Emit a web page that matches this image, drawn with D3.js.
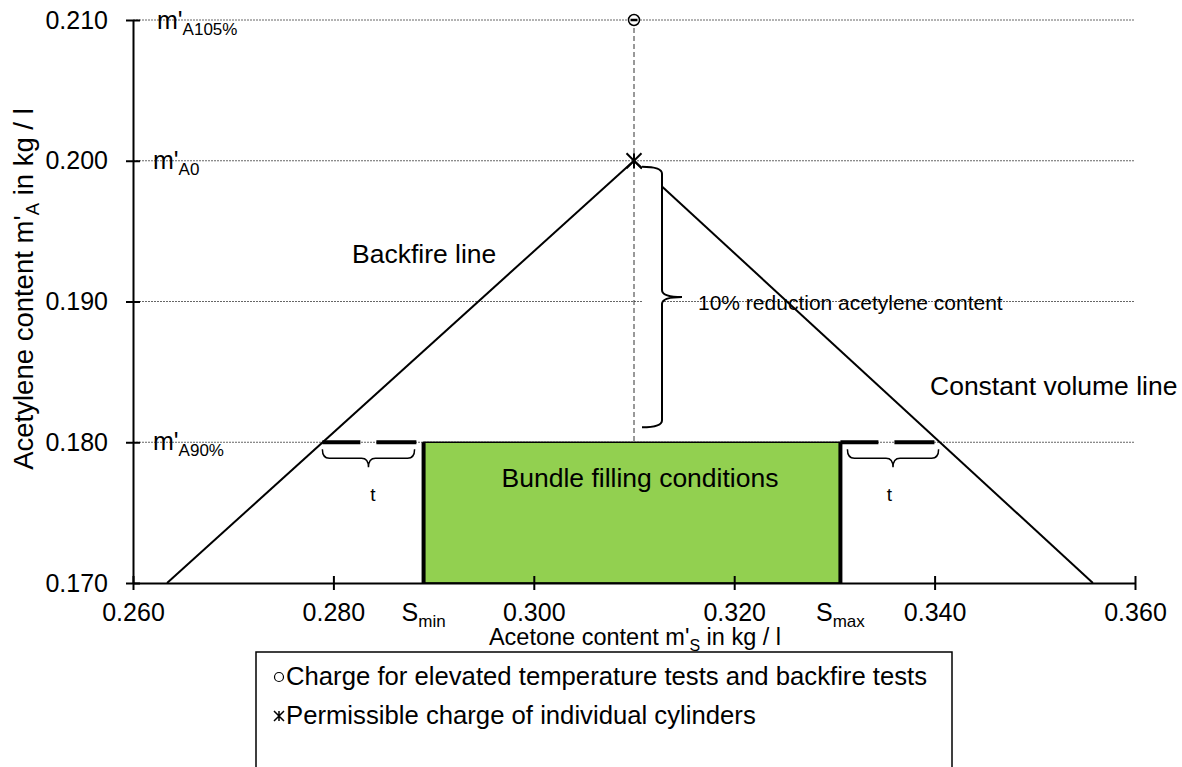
<!DOCTYPE html>
<html>
<head>
<meta charset="utf-8">
<script src="https://cdn.jsdelivr.net/npm/d3@7"></script>
<style>
  body { margin: 0; background: #fff; }
  text { font-family: Arial, "Liberation Sans", sans-serif; fill: #000; }
</style>
</head>
<body>
<div id="container"></div>
<script>
// axis ticks
const xTicks = [0.260, 0.280, 0.300, 0.320, 0.340, 0.360];
const yTicks = [0.170, 0.180, 0.190, 0.200, 0.210];

// reference levels of acetylene content
const refLevels = [0.210, 0.200, 0.180];
const refSubs = ["A105%", "A0", "A90%"];

// backfire line and constant volume line (acetone, acetylene)
const backfireX = [0.2634, 0.3100];
const backfireY = [0.170, 0.200];
const constVolX = [0.3100, 0.3558];
const constVolY = [0.200, 0.170];

// bundle filling conditions
const fillX = [0.2890, 0.3306];   // S_min, S_max
const fillY = [0.170, 0.180];

// tolerance t on both sides, at m'A90%
const tolLeftX = [0.2789, 0.2890];
const tolRightX = [0.3306, 0.3404];
const tolY = 0.180;

// charges
const chargeX = 0.310;
const elevatedY = 0.210;
const permissibleY = 0.200;

const width = 1182, height = 767;

const svg = d3.select("#container")
  .append("svg")
    .attr("width", width)
    .attr("height", height);

const x = d3.scaleLinear().domain([0.260, 0.360]).range([133, 1135]);
const y = d3.scaleLinear().domain([0.170, 0.210]).range([583, 20]);

// gridlines
svg.selectAll(".grid")
  .data(yTicks.filter(d => d > 0.170))
  .enter()
  .append("line")
    .attr("x1", x(0.260))
    .attr("x2", x(0.360))
    .attr("y1", d => y(d))
    .attr("y2", d => y(d))
    .attr("stroke", "#666")
    .attr("stroke-width", 1)
    .attr("stroke-dasharray", "2,1");

// green area
svg.append("rect")
  .attr("x", x(fillX[0]))
  .attr("y", y(fillY[1]))
  .attr("width", x(fillX[1]) - x(fillX[0]))
  .attr("height", y(fillY[0]) - y(fillY[1]))
  .attr("fill", "#92D050")
  .attr("stroke", "#000")
  .attr("stroke-width", 1.5);

svg.selectAll(".side")
  .data(fillX)
  .enter()
  .append("line")
    .attr("x1", d => x(d))
    .attr("x2", d => x(d))
    .attr("y1", y(fillY[0]))
    .attr("y2", y(fillY[1]))
    .attr("stroke", "#000")
    .attr("stroke-width", 4);

// vertical dashed line through the charges
svg.append("line")
  .attr("x1", x(chargeX))
  .attr("x2", x(chargeX))
  .attr("y1", y(elevatedY))
  .attr("y2", y(tolY))
  .attr("stroke", "#333")
  .attr("stroke-width", 1)
  .attr("stroke-dasharray", "5,3");

const line = d3.line().x(d => x(d[0])).y(d => y(d[1]));

svg.append("path")
  .attr("d", line(d3.zip(backfireX, backfireY)))
  .attr("fill", "none")
  .attr("stroke", "#000")
  .attr("stroke-width", 2);

svg.append("path")
  .attr("d", line(d3.zip(constVolX, constVolY)))
  .attr("fill", "none")
  .attr("stroke", "#000")
  .attr("stroke-width", 2);

// thick dashes for t
svg.selectAll(".tol")
  .data([tolLeftX, tolRightX])
  .enter()
  .append("line")
    .attr("x1", d => x(d[0]))
    .attr("x2", d => x(d[1]))
    .attr("y1", y(tolY))
    .attr("y2", y(tolY))
    .attr("stroke", "#000")
    .attr("stroke-width", 4)
    .attr("stroke-dasharray", "38,16,40,200");

// braces
function vBrace(x0, y0, y1, w) {
  const xm = x0 + w, xt = x0 + 2 * w, ym = (y0 + y1) / 2, r = 7;
  return `M${x0},${y0} Q${xm},${y0} ${xm},${y0 + r} L${xm},${ym - r} Q${xm},${ym} ${xt},${ym}` +
         ` Q${xm},${ym} ${xm},${ym + r} L${xm},${y1 - r} Q${xm},${y1} ${x0},${y1}`;
}
function hBrace(x0, x1, y0, h) {
  const ym = y0 + h, yt = y0 + 2 * h, xm = (x0 + x1) / 2, r = 7;
  return `M${x0},${y0} Q${x0},${ym} ${x0 + r},${ym} L${xm - r},${ym} Q${xm},${ym} ${xm},${yt}` +
         ` Q${xm},${ym} ${xm + r},${ym} L${x1 - r},${ym} Q${x1},${ym} ${x1},${y0}`;
}

const bigBrace = vBrace(x(chargeX) + 8, y(permissibleY) + 6, y(tolY) - 15, 20);
svg.append("path")
  .attr("d", bigBrace + "Z")
  .attr("fill", "#fff");
svg.append("path")
  .attr("d", bigBrace)
  .attr("fill", "none")
  .attr("stroke", "#000")
  .attr("stroke-width", 2);

svg.selectAll(".tbrace")
  .data([tolLeftX, tolRightX])
  .enter()
  .append("path")
    .attr("d", (d, i) => hBrace(x(d[0]) + (i ? 7 : 0), x(d[1]) - (i ? 0 : 9), y(tolY) + 7, 9))
    .attr("fill", "none")
    .attr("stroke", "#000")
    .attr("stroke-width", 1.5);

// axes
const yAxis = svg.append("g")
  .attr("transform", `translate(${x(0.260)},0)`)
  .call(d3.axisLeft(y).tickValues(yTicks).tickFormat(d3.format(".3f")).tickSize(7).tickSizeOuter(0).tickPadding(18));
yAxis.selectAll(".tick line").attr("x1", 7);

const xAxis = svg.append("g")
  .attr("transform", `translate(0,${y(0.170)})`)
  .call(d3.axisBottom(x).tickValues(xTicks).tickFormat(d3.format(".3f")).tickSize(7).tickSizeOuter(0).tickPadding(13));
xAxis.selectAll(".tick line").attr("y1", -7);

svg.selectAll(".domain, .tick line")
  .attr("stroke", "#000")
  .attr("stroke-width", 2);
svg.selectAll(".tick text")
  .attr("font-family", "Arial, 'Liberation Sans', sans-serif")
  .attr("font-size", 25)
  .attr("fill", "#000");

// markers
svg.append("circle")
  .attr("cx", x(chargeX))
  .attr("cy", y(elevatedY))
  .attr("r", 5.5)
  .attr("fill", "#fff")
  .attr("stroke", "#000")
  .attr("stroke-width", 1.5);
svg.append("line")
  .attr("x1", x(chargeX) - 3.5)
  .attr("x2", x(chargeX) + 3.5)
  .attr("y1", y(elevatedY))
  .attr("y2", y(elevatedY))
  .attr("stroke", "#000")
  .attr("stroke-width", 2.5);

const star = s => `M${-s},${-s}L${s},${s}M${-s},${s}L${s},${-s}M0,${-s}L0,${s}`;
svg.append("path")
  .attr("transform", `translate(${x(chargeX)},${y(permissibleY)})`)
  .attr("d", star(7.5))
  .attr("stroke", "#000")
  .attr("stroke-width", 2);

// text with subscript
function subText(sel, main, sub, rest, size, subSize) {
  sel.append("tspan").text(main);
  sel.append("tspan").attr("dy", 6).attr("font-size", subSize).text(sub);
  if (rest) sel.append("tspan").attr("dy", -6).text(rest);
  return sel.attr("font-size", size);
}

refLevels.forEach((v, i) => {
  subText(svg.append("text")
      .attr("x", i === 0 ? 157 : 153)
      .attr("y", y(v) + (i === 0 ? 9 : 8)),
    "m'", refSubs[i], null, 25, 17);
});

svg.append("text")
  .attr("x", 352).attr("y", 263)
  .attr("font-size", 26.5)
  .text("Backfire line");

svg.append("text")
  .attr("x", 930).attr("y", 395)
  .attr("font-size", 26.5)
  .text("Constant volume line");

svg.append("text")
  .attr("x", 698).attr("y", 310)
  .attr("font-size", 21)
  .text("10% reduction acetylene content");

svg.append("text")
  .attr("x", (x(fillX[0]) + x(fillX[1])) / 2 + 8)
  .attr("y", 487)
  .attr("text-anchor", "middle")
  .attr("font-size", 26.5)
  .text("Bundle filling conditions");

svg.selectAll(".tlabel")
  .data([tolLeftX, tolRightX])
  .enter()
  .append("text")
    .attr("x", d => (x(d[0]) + x(d[1])) / 2)
    .attr("y", y(tolY) + 59)
    .attr("text-anchor", "middle")
    .attr("font-size", 19)
    .text("t");

["min", "max"].forEach((s, i) => {
  subText(svg.append("text")
      .attr("x", x(fillX[i]))
      .attr("y", 621)
      .attr("text-anchor", "middle"),
    "S", s, null, 25, 17);
});

// axis titles
subText(svg.append("text")
    .attr("x", 635).attr("y", 645)
    .attr("text-anchor", "middle"),
  "Acetone content m'", "S", " in kg / l", 23.5, 16);

subText(svg.append("text")
    .attr("transform", "translate(33,289) rotate(-90)")
    .attr("text-anchor", "middle"),
  "Acetylene content m'", "A", " in kg / l", 27.5, 18.5);

// legend
const legend = svg.append("g").attr("transform", "translate(256,652)");
legend.append("rect")
  .attr("width", 696)
  .attr("height", 140)
  .attr("fill", "#fff")
  .attr("stroke", "#000")
  .attr("stroke-width", 1.5);

legend.append("circle")
  .attr("cx", 23).attr("cy", 25)
  .attr("r", 4.5)
  .attr("fill", "none")
  .attr("stroke", "#000")
  .attr("stroke-width", 1.2);
legend.append("path")
  .attr("transform", "translate(23,64)")
  .attr("d", star(5))
  .attr("stroke", "#000")
  .attr("stroke-width", 1.5);

legend.selectAll(".ltext")
  .data(["Charge for elevated temperature tests and backfire tests",
         "Permissible charge of individual cylinders"])
  .enter()
  .append("text")
    .attr("x", 30)
    .attr("y", (d, i) => 33 + i * 39)
    .attr("font-size", 25.7)
    .text(d => d);
</script>
</body>
</html>
